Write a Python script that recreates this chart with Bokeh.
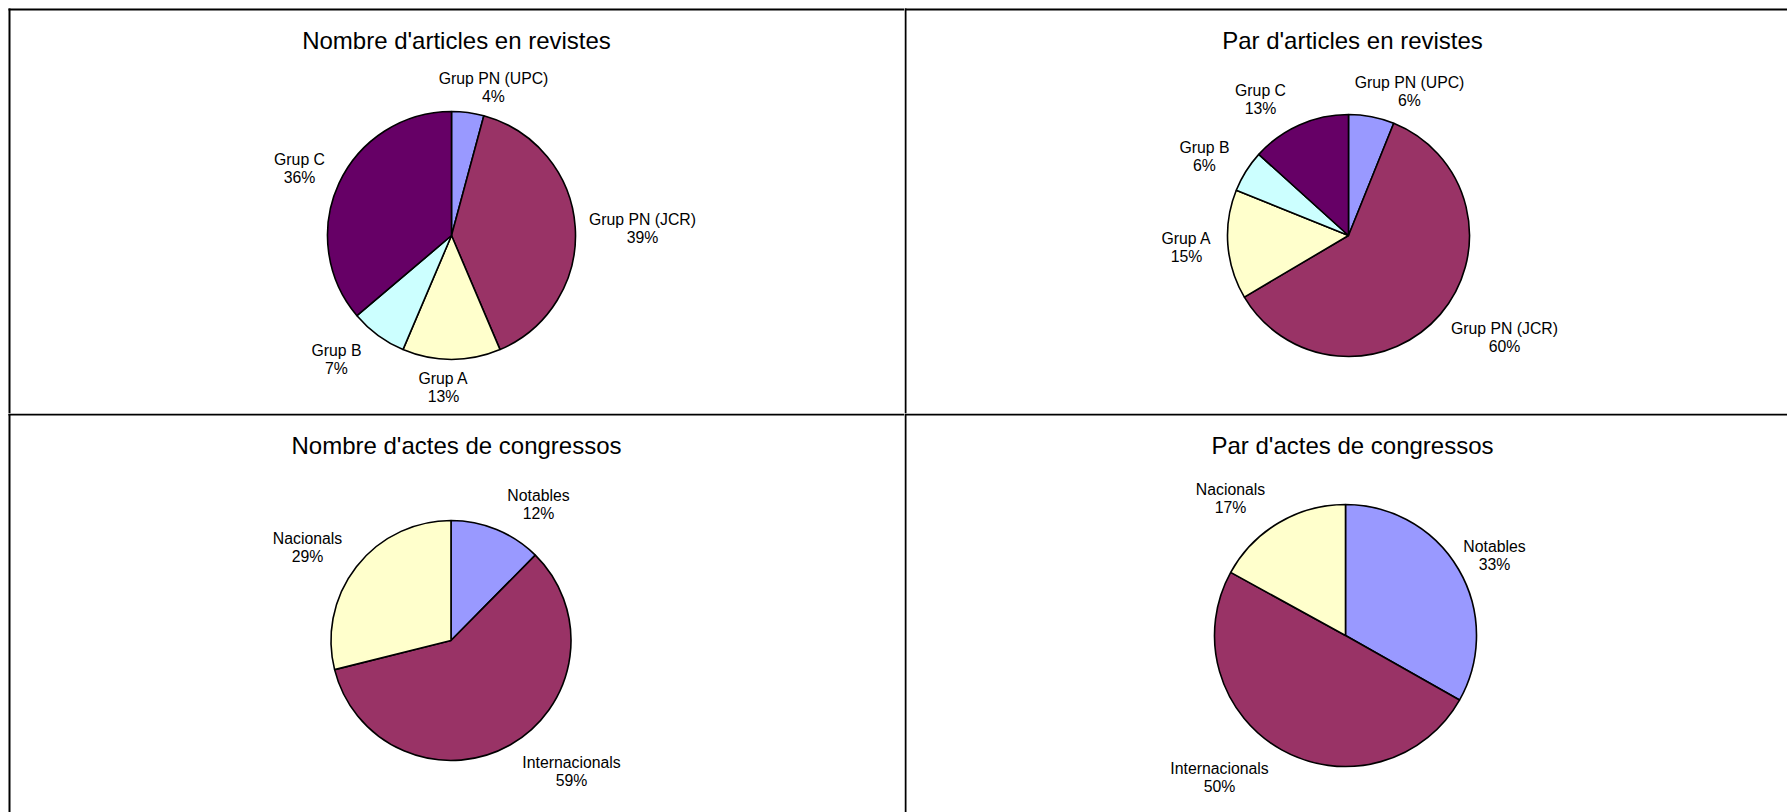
import math
from bokeh.plotting import figure
from bokeh.models import ColumnDataSource, Range1d, Label
from bokeh.layouts import row, column
from bokeh.core.properties import value
from bokeh.embed import file_html
from bokeh.resources import INLINE

# ---------------- data ----------------
titles = [
    "Nombre d'articles en revistes",
    "Par d'articles en revistes",
    "Nombre d'actes de congressos",
    "Par d'actes de congressos",
]
revistes_cats = ["Grup PN (UPC)", "Grup PN (JCR)", "Grup A", "Grup B", "Grup C"]
nombre_revistes = [4.2, 39.4, 12.8, 7.4, 36.2]
par_revistes = [6.1, 60.4, 14.6, 5.6, 13.3]
congressos_cats = ["Notables", "Internacionals", "Nacionals"]
nombre_congressos = [12.4, 58.7, 28.9]
par_congressos = [33.2, 49.8, 17.0]

revistes_colors = ["#9999FF", "#993366", "#FFFFCC", "#CCFFFF", "#660066"]
congressos_colors = ["#9999FF", "#993366", "#FFFFCC"]

# ---------------- layout (pixels, top-down inside each cell) ----------------
FONT = "Liberation Sans"
panels = [
    dict(w=904, h=413, ox=8, oy=8, cx=443, cy=227, r=124,
         labels=[(485, 79), (634, 220), (435, 379), (328, 351), (291, 160)]),
    dict(w=883, h=413, ox=0, oy=8, cx=444, cy=227, r=121,
         labels=[(505, 83), (600, 329), (282, 239), (300, 148), (356, 91)]),
    dict(w=904, h=399, ox=8, oy=0, cx=442.5, cy=227, r=120,
         labels=[(530, 91), (563, 358), (299, 134)]),
    dict(w=883, h=399, ox=0, oy=0, cx=441, cy=222, r=131,
         labels=[(590, 142), (315, 364), (326, 85)]),
]
series = [
    (revistes_cats, nombre_revistes, revistes_colors),
    (revistes_cats, par_revistes, revistes_colors),
    (congressos_cats, nombre_congressos, congressos_colors),
    (congressos_cats, par_congressos, congressos_colors),
]


def make_panel(title, cats, vals, colors, lay):
    W, H, ox, oy = lay["w"], lay["h"], lay["ox"], lay["oy"]
    p = figure(width=W, height=H, x_range=Range1d(0, W), y_range=Range1d(0, H),
               output_backend="svg", toolbar_location=None,
               x_axis_location=None, y_axis_location=None,
               min_border=0, outline_line_color=None,
               background_fill_color="white", border_fill_color="white")
    p.grid.visible = False

    total = sum(vals)
    starts, ends, cum = [], [], 0.0
    for v in vals:
        starts.append(math.pi / 2 - 2 * math.pi * cum / total)
        cum += v
        ends.append(math.pi / 2 - 2 * math.pi * cum / total)
    pct = [f"{round(100 * v / total)}%" for v in vals]
    texts = [f"{c}\n{pc}" for c, pc in zip(cats, pct)]
    lx = [ox + pt[0] for pt in lay["labels"]]
    ly = [H - oy - pt[1] for pt in lay["labels"]]

    src = ColumnDataSource(dict(start=starts, end=ends, color=colors,
                                text=texts, lx=lx, ly=ly,
                                x=[ox + lay["cx"]] * len(vals),
                                y=[H - oy - lay["cy"]] * len(vals)))
    p.wedge(x="x", y="y", radius=lay["r"], radius_units="screen",
            start_angle="start", end_angle="end", direction="clock",
            fill_color="color", line_color="black", line_width=1.6, source=src)
    p.text(x="lx", y="ly", text="text", source=src,
           text_font=value(FONT), text_font_size="15.8px", text_color="black",
           text_align="center", text_baseline="middle", text_line_height=1.07)

    p.add_layout(Label(x=ox + 448, y=H - oy - 32, text=title, text_font=FONT,
                       text_font_size="24px", text_color="black",
                       text_align="center", text_baseline="middle"))
    # cell borders: left and top edges of this cell only
    top = H - oy - 1
    p.segment(x0=[ox + 1, ox], y0=[0, top], x1=[ox + 1, W], y1=[top + 1, top],
              line_color="black", line_width=2)
    return p


figs = [make_panel(t, c, v, col, lay)
        for t, (c, v, col), lay in zip(titles, series, panels)]

layout = column(row(figs[0], figs[1]), row(figs[2], figs[3]))

open("out.html", "w").write(file_html(layout, INLINE))
